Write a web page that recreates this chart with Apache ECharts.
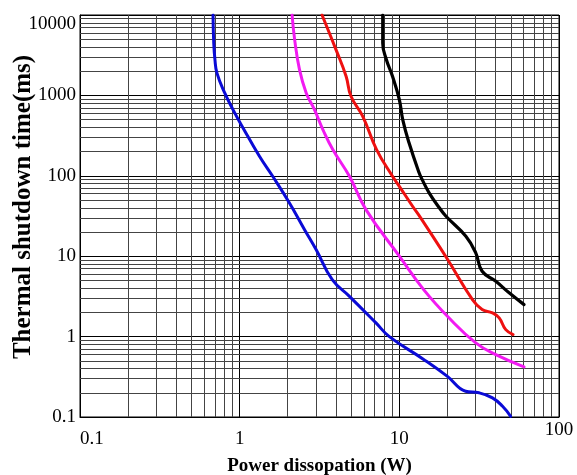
<!DOCTYPE html>
<html>
<head>
<meta charset="utf-8">
<script src="https://cdn.jsdelivr.net/npm/echarts@6/dist/echarts.min.js"></script>
<style>html,body{margin:0;padding:0;background:#fff}#c{width:577px;height:475px}</style>
</head>
<body>
<div id="c"></div>
<script>
// ---- data ----
const xTicks = [0.1, 1, 10, 100];
const yTicks = [0.1, 1, 10, 100, 1000, 10000];
const xMinorGrid = [0.2,0.3,0.4,0.5,0.6,0.7,0.8,0.9, 2,3,4,5,6,7,8,9, 20,30,40,50,60,70,80,90];
const yMinorGrid = [0.2,0.3,0.4,0.5,0.6,0.7,0.8,0.9, 2,3,4,5,6,7,8,9, 20,30,40,50,60,70,80,90,
                    200,300,400,500,600,700,800,900, 2000,3000,4000,5000,6000,7000,8000,9000];

const blueP = [0.681,0.688,0.70,0.72,0.806,0.908,1.05,1.33,1.61,2.05,2.55,3.01,3.80,4.87,7.14,8.66,14.2,20.0,26.0,31.6,38.3,44.3,49.8];
const blueT = [10000,4500,2790,1907,1074,666,394,175,98.6,46,21.4,12.1,5.1,3.17,1.48,1.0,0.52,0.32,0.209,0.2,0.173,0.136,0.102];

const magentaP = [2.13,2.21,2.37,2.61,2.94,3.32,3.83,4.87,6.18,10,14.2,20.5,30.1,40.2,60.4];
const magentaT = [10000,4940,2090,1074,666,376,212,98.6,38,10,3.84,1.7,0.835,0.597,0.42];

const redP = [3.28,4.01,4.64,4.98,5.90,7.2,9.06,10,12.1,13.6,19.8,28.7,33.0,38.3,42.2,46.4,51.6];
const redT = [10000,3710,1730,975,550,212,98.6,74,41.8,30,9.5,2.89,2.17,1.97,1.71,1.22,1.06];

const blackP = [7.87,7.87,8.29,9.06,10,10.5,11.5,13.3,13.9,15.4,17.8,19.6,26.1,30.1,33.0,40.2,48.7,60.4];
const blackT = [10000,4500,2790,1730,887,500,257,109,89.7,61,40,31.4,17.7,11,6.49,4.87,3.5,2.5];

const zip = (a, b) => a.map((v, i) => [v, b[i]]);
const serif = 'Liberation Serif';

function curve(name, px, py, color, w) {
  return {
    name, type: 'line', data: zip(px, py), showSymbol: false, smooth: 0.45,
    lineStyle: { color, width: w, cap: 'round', join: 'round' }, z: 5, silent: true
  };
}

const chart = echarts.init(document.getElementById('c'), null, { renderer: 'canvas' });
chart.setOption({
  animation: false,
  backgroundColor: '#fff',
  grid: { left: 80, right: 18, top: 15, bottom: 58, show: true, borderColor: '#000', borderWidth: 1,
          containLabel: false, outerBoundsMode: 'none' },
  xAxis: {
    type: 'log', logBase: 10, min: xTicks[0], max: xTicks[xTicks.length - 1],
    name: 'Power dissopation (W)', nameLocation: 'middle', nameGap: 40, nameMoveOverlap: false,
    nameTextStyle: { fontFamily: serif, fontWeight: 'bold', fontSize: 19, color: '#000' },
    axisLine: { lineStyle: { color: '#000', width: 1 } },
    axisTick: { show: false },
    splitLine: { show: true, lineStyle: { color: '#000', width: 1 } },
    axisLabel: {
      margin: 4, color: '#000', fontFamily: serif, fontSize: 19,
      formatter: v => (Math.abs(v - 100) < 1e-6 ? '{hi|' + v + '}' : '{lo|' + v + '}'),
      rich: {
        hi: { fontFamily: serif, fontSize: 19, color: '#000', padding: [0, 0, 0, 0] },
        lo: { fontFamily: serif, fontSize: 19, color: '#000', padding: [9, 0, 0, 0] }
      },
      alignMinLabel: 'left'
    }
  },
  yAxis: {
    type: 'log', logBase: 10, min: yTicks[0], max: yTicks[yTicks.length - 1],
    name: 'Thermal shutdown time(ms)', nameLocation: 'middle', nameGap: 44, nameMoveOverlap: false,
    nameTextStyle: { fontFamily: serif, fontWeight: 'bold', fontSize: 25, color: '#000', padding: [0, 0, 0, 18] },
    axisLine: { lineStyle: { color: '#000', width: 1 } },
    axisTick: { show: false },
    splitLine: { show: true, lineStyle: { color: '#000', width: 1 } },
    axisLabel: {
      margin: 4, color: '#000', fontFamily: serif, fontSize: 19,
      formatter: v => String(v),
      verticalAlignMaxLabel: 'top'
    }
  },
  series: [
    {
      type: 'line', data: [], silent: true, z: 1,
      markLine: {
        silent: true, symbol: ['none', 'none'], label: { show: false },
        lineStyle: { color: '#444', width: 1, type: 'solid' },
        emphasis: { disabled: true },
        animation: false,
        data: xMinorGrid.map(v => ({ xAxis: v })).concat(yMinorGrid.map(v => ({ yAxis: v })))
      }
    },
    curve('blue', blueP, blueT, '#0a0ad6', 3),
    curve('magenta', magentaP, magentaT, '#f21af2', 3),
    curve('red', redP, redT, '#ee1010', 3),
    curve('black', blackP, blackT, '#000000', 3.2)
  ]
});
</script>
</body>
</html>
